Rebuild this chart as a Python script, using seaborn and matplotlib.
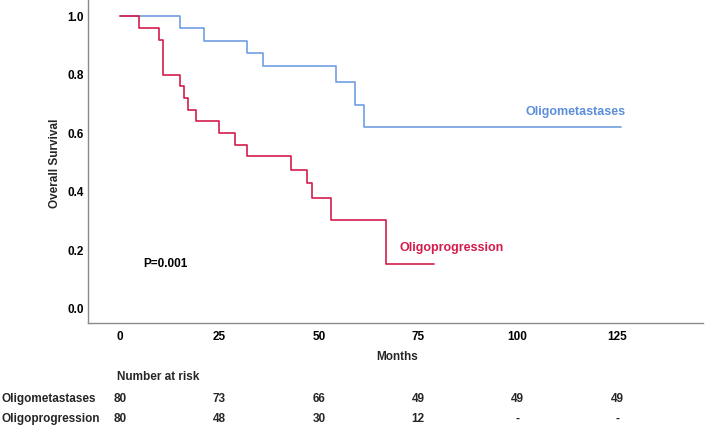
import matplotlib
matplotlib.use("Agg")
import matplotlib.pyplot as plt
import matplotlib.transforms as mtransforms
import seaborn as sns
import pandas as pd

# ---- data ----
meta_times = [0, 15, 21, 32, 36, 54.2, 59.2, 61.3, 126]
meta_surv = [1.0, 0.958, 0.916, 0.874, 0.829, 0.775, 0.696, 0.620, 0.620]
prog_times = [0, 4.9, 9.9, 10.8, 15, 16, 17, 19, 25, 29, 32, 43.1, 47.1, 48.2, 53.1, 66.8, 79]
prog_surv = [1.0, 0.959, 0.920, 0.800, 0.760, 0.720, 0.681, 0.641, 0.602, 0.561, 0.521,
             0.474, 0.429, 0.380, 0.305, 0.155, 0.155]
x_ticks = [0, 25, 50, 75, 100, 125]
y_ticks = [0.0, 0.2, 0.4, 0.6, 0.8, 1.0]
groups = ["Oligometastases", "Oligoprogression"]
risk_meta = ["80", "73", "66", "49", "49", "49"]
risk_prog = ["80", "48", "30", "12", "-", "-"]
p_text = "P=0.001"

blue = "#6f9fe2"
blue_text = "#5b8fd9"
red = "#d41b4c"

sns.set_theme(style="white")
plt.rcParams["font.family"] = ["Liberation Sans", "DejaVu Sans"]

fig = plt.figure(figsize=(7.08, 4.26), dpi=100)
ax = fig.add_axes([88 / 708, 1 - 323 / 426, (703 - 88) / 708, 323 / 426])

df_meta = pd.DataFrame({"Months": meta_times, "Survival": meta_surv})
df_prog = pd.DataFrame({"Months": prog_times, "Survival": prog_surv})
sns.lineplot(data=df_meta, x="Months", y="Survival", estimator=None, sort=False,
             drawstyle="steps-post", color=blue, linewidth=1.2, ax=ax)
sns.lineplot(data=df_prog, x="Months", y="Survival", estimator=None, sort=False,
             drawstyle="steps-post", color=red, linewidth=1.2, ax=ax)

ax.set_xlim(-8.05, 146.6)
ax.set_ylim(-0.048, 1.055)
ax.set_xticks(x_ticks)
ax.set_yticks(y_ticks)
ax.set_xticklabels([str(t) for t in x_ticks], fontsize=8.5, fontweight="bold")
ax.set_yticklabels([f"{t:.1f}" for t in y_ticks], fontsize=8.5, fontweight="bold")
ax.tick_params(axis="both", length=0, colors="black")
ax.tick_params(axis="x", pad=6)
ax.tick_params(axis="y", pad=3)
ax.set_xlabel("")
ax.set_ylabel("")
for side in ["top", "right"]:
    ax.spines[side].set_visible(False)
for side in ["left", "bottom"]:
    ax.spines[side].set_color("#8a8a8a")
    ax.spines[side].set_linewidth(1.0)

ax.text(101.9, 0.673, groups[0], color=blue_text, fontsize=9, fontweight="bold",
        ha="left", va="center")
ax.text(70.4, 0.208, groups[1], color=red, fontsize=9, fontweight="bold",
        ha="left", va="center")
ax.text(5.8, 0.154, p_text, color="black", fontsize=8.5, fontweight="bold",
        ha="left", va="center")

fig.text(55 / 708, 1 - 163 / 426, "Overall Survival", rotation=90, fontsize=8.5,
         fontweight="bold", ha="center", va="center")
fig.text(397 / 708, 1 - 357 / 426, "Months", fontsize=8.5, fontweight="bold",
         ha="center", va="center")
fig.text(117 / 708, 1 - 377 / 426, "Number at risk", fontsize=8.5, fontweight="bold",
         ha="left", va="center")

trans = mtransforms.blended_transform_factory(ax.transData, fig.transFigure)
for label, row, ypix in [(groups[0], risk_meta, 399), (groups[1], risk_prog, 419)]:
    fig.text(1 / 708, 1 - ypix / 426, label, fontsize=8.5, fontweight="bold",
             ha="left", va="center")
    for t, v in zip(x_ticks, row):
        ax.text(t, 1 - ypix / 426, v, transform=trans, fontsize=8.5, fontweight="bold",
                ha="center", va="center", clip_on=False)

fig.savefig("out.png", dpi=100)
